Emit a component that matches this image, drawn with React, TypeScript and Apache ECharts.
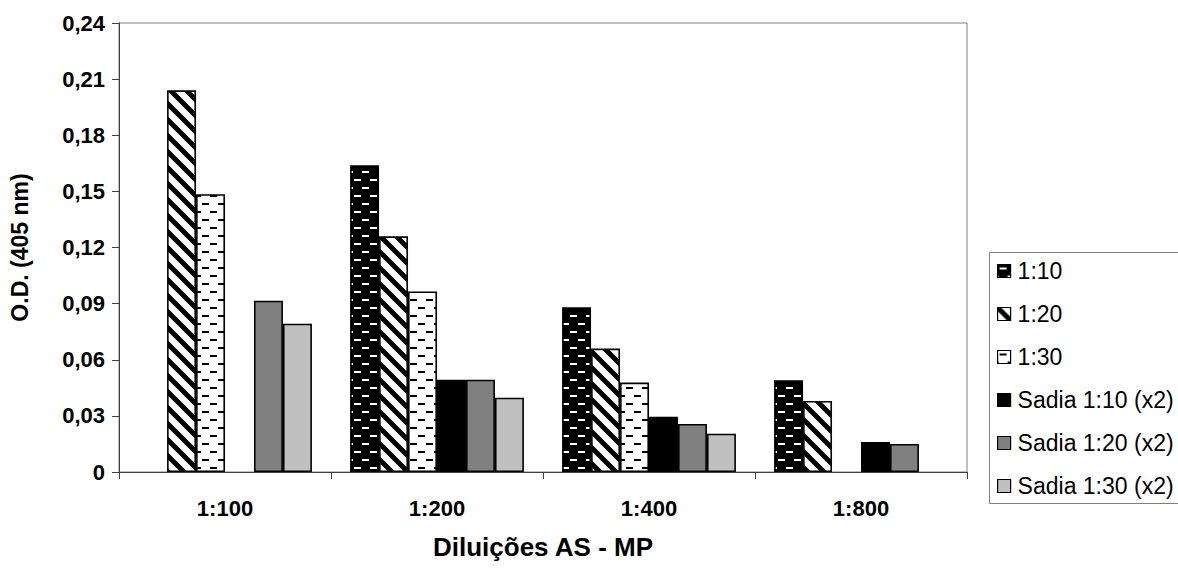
import React, { useEffect, useRef } from "react";
import * as echarts from "echarts";

const categories = ["1:100", "1:200", "1:400", "1:800"];
const seriesNames = ["1:10", "1:20", "1:30", "Sadia 1:10 (x2)", "Sadia 1:20 (x2)", "Sadia 1:30 (x2)"];
const s110 = ["-", 0.164, 0.088, 0.049];
const s120 = [0.204, 0.126, 0.066, 0.038];
const s130 = [0.1485, 0.0965, 0.0478, "-"];
const sadia110 = ["-", 0.0493, 0.0295, 0.016];
const sadia120 = [0.0916, 0.0493, 0.0257, 0.015];
const sadia130 = [0.0793, 0.0397, 0.0205, "-"];
const yTicks = { min: 0, max: 0.24, interval: 0.03 };

const FONT = "'Liberation Sans', Arial, sans-serif";
const T = 16;

function dashPattern(bg: string, fg: string) {
  const c = document.createElement("canvas");
  c.width = T;
  c.height = T;
  const ctx = c.getContext("2d")!;
  ctx.fillStyle = bg;
  ctx.fillRect(0, 0, T, T);
  ctx.fillStyle = fg;
  ctx.fillRect(2, 3, 7, 2);
  ctx.fillRect(10, 11, 6, 2);
  ctx.fillRect(0, 11, 1, 2);
  return { image: c, repeat: "repeat", imageWidth: T, imageHeight: T };
}

function diagPattern() {
  const c = document.createElement("canvas");
  c.width = T;
  c.height = T;
  const ctx = c.getContext("2d")!;
  ctx.fillStyle = "#ffffff";
  ctx.fillRect(0, 0, T, T);
  ctx.strokeStyle = "#000000";
  ctx.lineWidth = 5;
  for (let k = -1; k <= 1; k++) {
    ctx.beginPath();
    ctx.moveTo(k * T - 4, -4);
    ctx.lineTo(k * T + T + 4, T + 4);
    ctx.stroke();
  }
  return { image: c, repeat: "repeat", imageWidth: T, imageHeight: T };
}

export default function App() {
  const ref = useRef<HTMLDivElement>(null);
  useEffect(() => {
    const chart = echarts.init(ref.current!, undefined, { renderer: "svg" });
    const fills: any[] = [
      dashPattern("#000000", "#ffffff"),
      diagPattern(),
      dashPattern("#ffffff", "#000000"),
      "#000000",
      "#808080",
      "#c0c0c0",
    ];
    const datas = [s110, s120, s130, sadia110, sadia120, sadia130];
    chart.setOption({
      animation: false,
      backgroundColor: "#ffffff",
      textStyle: { fontFamily: FONT },
      grid: {
        left: 115,
        top: 23,
        right: 211,
        bottom: 97,
        show: true,
        borderColor: "#808080",
        borderWidth: 1,
        containLabel: false,
      },
      graphic: [
        {
          type: "rect",
          shape: { x: 989.5, y: 252.5, width: 300, height: 251 },
          style: { fill: "#ffffff", stroke: "#808080", lineWidth: 1 },
          z: -1,
          silent: true,
        },
      ],
      legend: {
        orient: "vertical",
        left: 989,
        top: 252,
        data: seriesNames,
        icon: "rect",
        itemWidth: 13,
        itemHeight: 13,
        itemGap: 19,
        padding: [7, 0, 9, 8],
        borderWidth: 0,
        textStyle: { fontFamily: FONT, fontSize: 23, color: "#000", lineHeight: 24, padding: [0, 0, 0, 2] },
        itemStyle: { borderColor: "#000", borderWidth: 1.2 },
      },
      xAxis: {
        type: "category",
        data: categories,
        name: "Diluições AS - MP",
        nameLocation: "middle",
        nameGap: 62,
        nameTextStyle: { fontFamily: FONT, fontSize: 26, fontWeight: "bold", color: "#000" },
        axisLine: { lineStyle: { color: "#404040", width: 1 } },
        axisTick: { show: true, length: 7, lineStyle: { color: "#404040" } },
        axisLabel: { fontFamily: FONT, fontSize: 22, fontWeight: "bold", color: "#000", margin: 25 },
      },
      yAxis: {
        type: "value",
        min: yTicks.min,
        max: yTicks.max,
        interval: yTicks.interval,
        name: "O.D. (405 nm)",
        nameLocation: "middle",
        nameGap: 88,
        nameTextStyle: { fontFamily: FONT, fontSize: 23, fontWeight: "bold", color: "#000" },
        axisLine: { show: true, lineStyle: { color: "#404040", width: 1 } },
        axisTick: { show: true, length: 7, lineStyle: { color: "#404040" } },
        splitLine: { show: false },
        axisLabel: {
          fontFamily: FONT,
          fontSize: 22,
          fontWeight: "bold",
          color: "#000",
          margin: 14,
          formatter: (v: number) => (v === 0 ? "0" : v.toFixed(2).replace(".", ",")),
        },
      },
      series: seriesNames.map((name, i) => ({
        name,
        type: "bar",
        data: datas[i],
        barGap: "0%",
        barCategoryGap: "18%",
        itemStyle: { color: fills[i], borderColor: "#000000", borderWidth: 1.6 },
      })),
    });
    return () => chart.dispose();
  }, []);
  return (
    <div
      ref={ref}
      style={{ position: "fixed", left: 0, top: 0, width: 1178, height: 569, background: "#fff" }}
    />
  );
}
